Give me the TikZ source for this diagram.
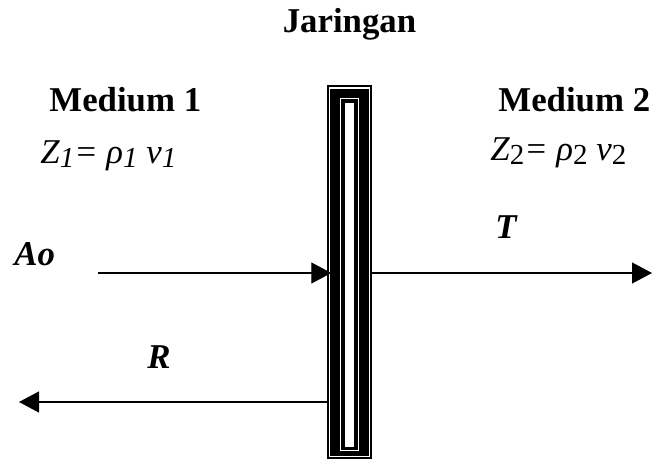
\documentclass[tikz,border=0pt]{standalone}
\usepackage{fontspec}
\setmainfont{Liberation Serif}
\usetikzlibrary{arrows.meta,calc}
\newcommand{\lowsub}[1]{\raisebox{-0.3ex}{\fontsize{14.5}{15}\selectfont #1}}

\begin{document}
\begin{tikzpicture}[
  x=0.5pt, y=-0.5pt,
  >={Triangle[length=10pt,width=10.5pt]},
  big/.style  = {font=\fontsize{17.4}{20}\selectfont\bfseries, inner sep=0pt, anchor=base west},
  imp/.style  = {font=\fontsize{17.4}{20}\selectfont\itshape, inner sep=0pt, anchor=base west},
  sym/.style  = {font=\fontsize{17.4}{20}\selectfont\bfseries\itshape, inner sep=0pt, anchor=base west},
  wave/.style = {->, line width=0.6pt},
  wall/.style = {fill=black, minimum width=22.5pt, minimum height=187pt, inner sep=0pt},
  seam/.style = {draw=white, line width=0.6pt},
]
\useasboundingbox (0,0) rectangle (652,460);

% ---- the tissue layer ----------------------------------------------
\node[wall] (wall) at (349.2,272) {};
\draw[seam] ($(wall.north west)+(3,3.5)$) rectangle ($(wall.south east)+(-2.7,-3)$);
\draw[seam] ($(wall.north west)+(14.3,14)$) rectangle ($(wall.south east)+(-13.7,-9)$);
\fill[white] ($(wall.north west)+(18.8,18)$) rectangle ($(wall.south east)+(-18.2,-12)$);

% ---- labels ---------------------------------------------------------
\node[big, anchor=base] (title) at (349.5,33) {Jaringan};
\node[big] (med1) at (49,112) {Medium 1};
\node[big] (med2) at (498,112) {Medium 2};
\node[imp] (z1) at (40,163) {Z\lowsub{1}= ρ\lowsub{1} v\lowsub{1}};
\node[imp] (z2) at (490,160) {Z\lowsub{\upshape 2}= ρ\lowsub{\upshape 2} v\lowsub{\upshape 2}};
\node[sym] (ao) at (14,265) {Ao};
\node[sym] (tlab) at (495,238) {T};
\node[sym] (rlab) at (147,368) {R};

% ---- waves ----------------------------------------------------------
\coordinate (ao-start) at (98,273);
\coordinate (t-end) at (652,273);
\coordinate (r-end) at (19,402);
\draw[wave] (ao-start) -- ($(wall.west)+(5,1)$);
\draw[wave] ($(wall.east)+(0,1)$) -- (t-end);
\draw[wave] ($(wall.west)+(3,130)$) -- (r-end);

\end{tikzpicture}
\end{document}
